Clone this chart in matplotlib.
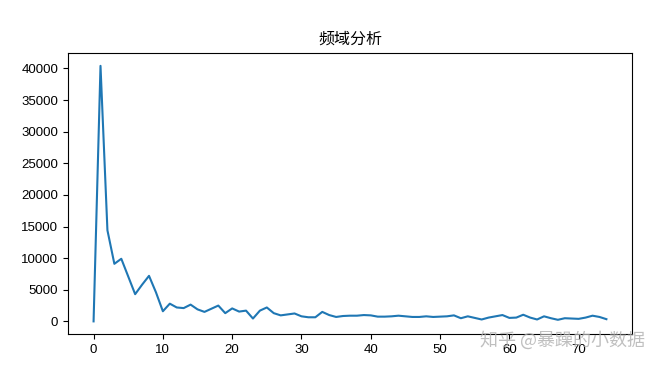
import numpy as np
import matplotlib
matplotlib.use('Agg')
import matplotlib.pyplot as plt

plt.rcParams['font.family'] = ['Liberation Sans', 'Noto Sans CJK SC', 'DejaVu Sans']

# amplitude of each frequency bin
freq = np.arange(75)
amp = [0, 40400, 14400, 9100, 9900, 7100, 4300, 5800, 7200, 4600,
       1600, 2800, 2200, 2100, 2650, 1900, 1500, 2000, 2500, 1300,
       2050, 1550, 1700, 450, 1700, 2200, 1300, 950, 1100, 1250,
       800, 650, 650, 1500, 1000, 700, 850, 900, 900, 1000,
       950, 750, 750, 800, 900, 800, 700, 700, 800, 700,
       750, 800, 950, 500, 800, 550, 300, 600, 800, 1000,
       550, 600, 1050, 600, 300, 800, 500, 250, 500, 450,
       400, 600, 900, 700, 350]
title = '频域分析'
watermark = '知乎 @暴躁的小数据'

fig = plt.figure(figsize=(6.66, 3.66), dpi=100)
ax = fig.add_axes([0.102, 0.087, 0.847, 0.768])
ax.plot(freq, amp, color='#1f77b4', lw=1.5)
ax.set_title(title, family=['Noto Sans CJK SC'], fontsize=11.5, pad=7)
ax.tick_params(labelsize=9.5)

fig.text(0.845, 0.07, watermark, family=['Noto Sans CJK SC'], fontsize=13,
         color='#b0b0b0', alpha=0.8, ha='center', va='center')

fig.savefig('out.png', dpi=100)
